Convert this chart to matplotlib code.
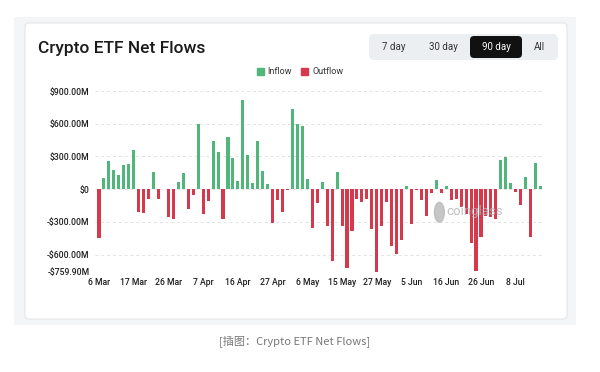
import numpy as np
import matplotlib.pyplot as plt
from matplotlib.patches import FancyBboxPatch, Patch, Ellipse
from matplotlib.transforms import IdentityTransform

# Daily net flows (US$ millions), 90 trading days
flows = [-450, 98, 260, 174, 128, 217, 233, 361, -214, -220,
         -86, 153, -92, 0, -257, -275, 67, 147, -178, -55,
         595, -230, -110, 442, 342, -273, 476, 282, 77, 817,
         315, 58, 438, 162, 49, -306, -101, -211, -5, 731,
         600, 578, 95, -358, -125, 64, -334, -655, 153, -340,
         -725, -383, -92, -116, -92, -361, -759.9, -337, -122, -517,
         -597, -465, 28, -324, -9, -104, -242, -37, 83, -31,
         28, -104, -92, -165, -226, -490, -750, -435, -242, -251,
         -275, 263, 297, 52, -24, -141, 110, -435, 242, 31]

tick_idx = [0, 7, 14, 21, 28, 35, 42, 49, 56, 63, 70, 77, 84]
tick_labels = ['6 Mar', '17 Mar', '26 Mar', '7 Apr', '16 Apr', '27 Apr', '6 May',
               '15 May', '27 May', '5 Jun', '16 Jun', '26 Jun', '8 Jul']

y_ticks = [-759.9, -600, -300, 0, 300, 600, 900]
y_labels = ['-$759.90M', '-$600.00M', '-$300.00M', '$0', '$300.00M', '$600.00M', '$900.00M']

GREEN = '#50B67A'
RED = '#D6394C'
W, H = 600, 372

plt.rcParams['font.family'] = ['Roboto', 'DejaVu Sans']

fig = plt.figure(figsize=(6, 3.72), dpi=100)
fig.patch.set_facecolor('white')


def box(x0, y0, x1, y1, r, fc, ec='none', lw=0, z=0):
    # rectangle given in image pixels (y down)
    p = FancyBboxPatch((x0, H - y1), x1 - x0, y1 - y0,
                       boxstyle=f'round,pad=0,rounding_size={r}',
                       fc=fc, ec=ec, lw=lw, transform=IdentityTransform(), zorder=z)
    fig.add_artist(p)


def ftext(x, y, s, **kw):
    fig.text(x / W, 1 - y / H, s, **kw)


# page background and card
box(14, 17, 576, 325, 0, '#f4f5f6', z=-3)
box(25, 23, 567, 319, 4, 'white', '#e4e6e8', 0.8, z=-2)

# title
ftext(38, 49, 'Crypto ETF Net Flows', fontsize=12.5, fontweight='medium',
      color='#1a1a1a', va='center', ha='left')

# range selector
box(369, 34, 558, 60, 5, '#eceff1', z=-1)
box(470, 36, 522, 58, 4, '#111111', z=0)
for x, s in [(394, '7 day'), (443, '30 day'), (496, '90 day'), (539, 'All')]:
    ftext(x, 47.5, s, fontsize=7, color='white' if s == '90 day' else '#333333',
          ha='center', va='center')

# chart
ax = fig.add_axes([95 / W, 1 - 272 / H, (544 - 95) / W, (272 - 91) / H])
x = np.arange(len(flows))
vals = np.array(flows, dtype=float)
inflow = np.where(vals > 0, vals, 0)
outflow = np.where(vals < 0, vals, 0)
ax.bar(x, inflow, width=0.62, color=GREEN, label='Inflow', zorder=2)
ax.bar(x, outflow, width=0.62, color=RED, label='Outflow', zorder=2)

ax.set_ylim(-759.9, 900)
ax.set_xlim(-0.8, len(flows) - 0.3)
ax.set_yticks(y_ticks)
ax.set_yticklabels(y_labels)
ax.set_xticks(tick_idx)
ax.set_xticklabels(tick_labels)
ax.tick_params(length=0, labelsize=6.2, labelcolor='#1e1e1e', pad=4)
for lab in ax.get_xticklabels() + ax.get_yticklabels():
    lab.set_fontweight('medium')
ax.grid(axis='y', linestyle=(0, (3, 3)), color='#e2e2e2', linewidth=0.7, zorder=0)
for s in ax.spines.values():
    s.set_visible(False)
ax.set_facecolor('none')

# watermark
ax.text(0.783, 0.335, 'coinglass', transform=ax.transAxes, fontsize=9.5,
        color='#b4b4b4', alpha=0.85, ha='left', va='center', zorder=3)
ax.add_patch(Ellipse((0.767, 0.33), 0.022, 0.11, transform=ax.transAxes,
                     color='#bcbcbc', alpha=0.85, zorder=3))

fig.legend(handles=[Patch(color=GREEN, label='Inflow'), Patch(color=RED, label='Outflow')],
           loc='center', bbox_to_anchor=(300 / W, 1 - 72 / H), ncol=2, frameon=False,
           fontsize=6.5, handlelength=0.8, handleheight=0.8, handletextpad=0.4,
           columnspacing=1.0, labelcolor='#333333')

# caption under the card
fig.text(295 / W, 1 - 341 / H, '[插图：Crypto ETF Net Flows]', fontsize=8,
         color='#777777', ha='center', va='center',
         family=['Noto Sans CJK SC', 'DejaVu Sans'])

fig.savefig('out.png', dpi=100)
